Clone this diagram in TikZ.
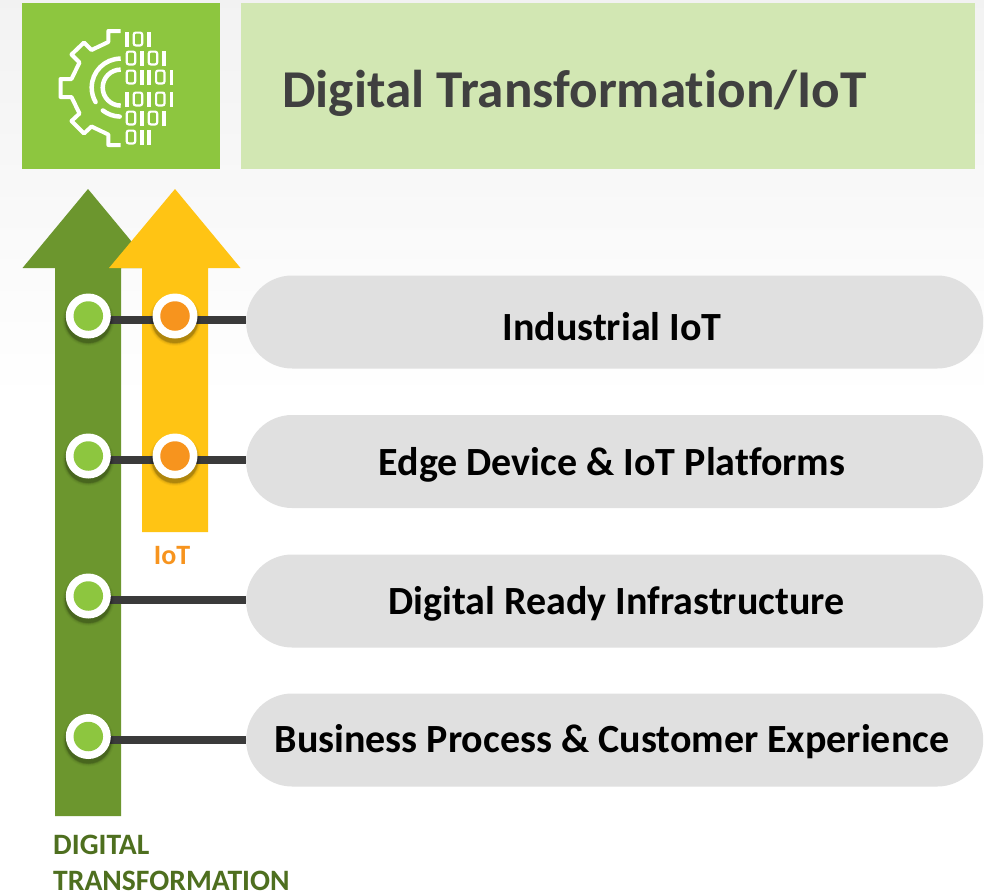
\documentclass[tikz,border=0pt]{standalone}
\usepackage{fontspec}
\setmainfont[Ligatures=NoCommon]{Carlito}
\definecolor{leaf}{HTML}{8DC63F}
\definecolor{pale}{HTML}{D2E7B3}
\definecolor{moss}{HTML}{6C962E}
\definecolor{amber}{HTML}{FFC414}
\definecolor{tang}{HTML}{F7941E}
\definecolor{pill}{HTML}{E0E0E0}
\definecolor{bar}{HTML}{3A3A3A}
\definecolor{titletxt}{HTML}{404040}
\definecolor{dtlabel}{HTML}{4E6F1F}
\tikzset{x=1pt,y=-1pt,
  pillbox/.style={fill=pill,rounded corners=46pt,minimum width=737pt,minimum height=93pt,inner sep=0pt,anchor=west},
  pilltext/.style={font=\bfseries\fontsize{40}{44}\selectfont,text=black,inner sep=0pt},
  dotbase/.style={circle,fill=white,draw=none,minimum size=45pt,inner sep=0pt},
  dotfill/.style={circle,minimum size=29.5pt,inner sep=0pt},
  linkbar/.style={draw=bar,line width=8pt},
  iconline/.style={draw=white,line width=4pt,line join=round},
  iconarc/.style={draw=white,line width=4.5pt}
}
\newcommand{\softshadow}[2]{%
  \foreach \r/\o in {26/.03,25/.05,24/.07,23.5/.09,23/.11}{\fill[black,opacity=\o] (#1,#2+4) circle[radius=\r pt];}}
\newcommand{\bitone}[2]{\fill[white] (#1/3,#2) rectangle ++(3.6,15);}
\newcommand{\bitzero}[2]{\draw[white,line width=2.2pt,rounded corners=2pt] (#1/3+1.1,#2+1.1) rectangle ++(8.4,12.8);}
\begin{document}
\begin{tikzpicture}
\useasboundingbox (0,0) rectangle (984,892);
\shade[top color=black!5,bottom color=white] (0,0) rectangle (984,400);
\fill[white] (0,400) rectangle (984,892);
% header
\fill[leaf] (22,3) rectangle (220,169);
\fill[pale] (241,3) rectangle (975,169);
\node[anchor=west,text=titletxt,font=\bfseries\fontsize{53.2}{58}\selectfont,inner sep=0pt] (title) at (282,93) {Digital Transformation/IoT};
% icon gear
\draw[iconline] (120.7,31) -- (108.3,31) -- (108.3,42) -- (91.5,50) -- (84,42.5) -- (71.5,54.5) -- (79.5,62.5) -- (71.5,79) -- (60.5,79) -- (60.5,97) -- (71.5,97) -- (79.5,113.5) -- (71.5,121) -- (84,133.5) -- (91.5,126.5) -- (108.3,134.5) -- (108.3,145) -- (120.7,145);
\begin{scope}[shift={(120.7,87.6)}]
\draw[iconarc] (-90:29) arc[start angle=-90,end angle=-180,radius=29];
\draw[iconarc,line cap=round] (180:29) arc[start angle=180,end angle=150,radius=29];
\draw[iconarc,line cap=round] (128:29) arc[start angle=128,end angle=92,radius=29];
\draw[iconarc] (-90:18) arc[start angle=-90,end angle=-270,radius=18];
\end{scope}
% bits
\bitone{375}{31.5}\bitzero{398}{31.5}\bitone{442}{31.5}
\bitzero{377}{50.5}\bitone{420}{50.5}\bitzero{443}{50.5}\bitone{487}{50.5}
\bitzero{377}{69.5}\bitone{420}{69.5}\bitone{442}{69.5}\bitzero{465}{69.5}\bitone{509}{69.5}
\bitone{375}{91.5}\bitzero{398}{91.5}\bitone{442}{91.5}\bitzero{465}{91.5}\bitone{509}{91.5}
\bitzero{377}{110.5}\bitone{420}{110.5}\bitzero{443}{110.5}\bitone{487}{110.5}
\bitzero{377}{129.5}\bitone{420}{129.5}\bitone{442}{129.5}
% arrows
\fill[moss] (55,816) -- (55,268) -- (22.5,268) -- (88,189) -- (153.5,268) -- (121,268) -- (121,816) -- cycle;
\fill[amber] (142,532) -- (142,268) -- (109,268) -- (175,189) -- (240.5,268) -- (208,268) -- (208,532) -- cycle;
% pills
\node[pillbox] (p1) at (246,322) {};
\node[pillbox] (p2) at (246,461.5) {};
\node[pillbox] (p3) at (246,601) {};
\node[pillbox] (p4) at (246,740) {};
\node[pilltext] (t1) at (612,327) {Industrial IoT};
\node[pilltext] (t2) at (612,465) {Edge Device \& IoT Platforms};
\node[pilltext] (t3) at (616.5,604) {Digital Ready Infrastructure};
\node[pilltext] (t4) at (612,742) {Business Process \& Customer Experience};
% dots coordinates
\coordinate (g1) at (88.3,316);
\coordinate (g2) at (88.3,456);
\coordinate (g3) at (88.3,596);
\coordinate (g4) at (88.3,736.5);
\coordinate (o1) at (175,316);
\coordinate (o2) at (175,456);
% connectors
\draw[linkbar] (g1 |- 0,320) -- (p1.west |- 0,320);
\draw[linkbar] (g2 |- 0,460) -- (p2.west |- 0,460);
\draw[linkbar] (g3 |- 0,600) -- (p3.west |- 0,600);
\draw[linkbar] (g4 |- 0,740) -- (p4.west |- 0,740);
% dots
\softshadow{88.3}{316}\softshadow{175}{316}\softshadow{88.3}{456}\softshadow{175}{456}\softshadow{88.3}{596}\softshadow{88.3}{736.5}
\node[dotbase] (dg1) at (g1) {}; \node[dotfill,fill=leaf] at (g1) {};
\node[dotbase] (do1) at (o1) {}; \node[dotfill,fill=tang] at (o1) {};
\node[dotbase] (dg2) at (g2) {}; \node[dotfill,fill=leaf] at (g2) {};
\node[dotbase] (do2) at (o2) {}; \node[dotfill,fill=tang] at (o2) {};
\node[dotbase] (dg3) at (g3) {}; \node[dotfill,fill=leaf] at (g3) {};
\node[dotbase] (dg4) at (g4) {}; \node[dotfill,fill=leaf] at (g4) {};
% labels
\node[font=\bfseries\fontsize{28}{30}\selectfont,text=tang,inner sep=0pt] (iot) at (172,555.5) {IoT};
\node[anchor=north west,font=\bfseries\fontsize{29.6}{36}\selectfont,text=dtlabel,inner sep=0pt,align=left] (dt) at (53,834.5) {DIGITAL\\TRANSFORMATION};
\end{tikzpicture}
\end{document}
